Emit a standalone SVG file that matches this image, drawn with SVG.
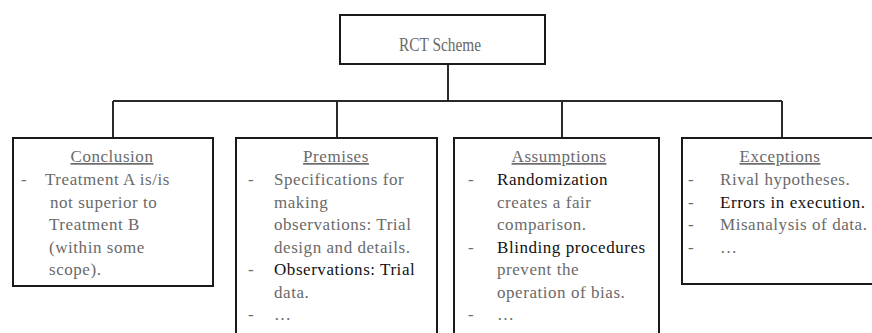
<svg xmlns="http://www.w3.org/2000/svg" width="872" height="333" viewBox="0 0 872 333">
  <style>
    .box { fill: #ffffff; stroke: #1a1a1a; stroke-width: 2; }
    .wire { fill: none; stroke: #2a2a2a; stroke-width: 2; }
    .t { font-family: 'Liberation Serif', 'DejaVu Serif', 'Noto Serif', serif; font-size: 17px; letter-spacing: 0.55px; fill: #6a6a6a; }
    .title { text-anchor: middle; text-decoration: underline; }
    .dark { fill: #111111; }
    .head { font-size: 19px; letter-spacing: 0; text-anchor: middle; }
  </style>

  <rect width="872" height="333" fill="#ffffff"/>

  <!-- tree connectors -->
  <g id="connectors">
    <path class="wire" d="M448 64 V101 M113 101 H782 M113 101 V138 M337 101 V138 M562 101 V138 M782 101 V138"/>
  </g>

  <g class="t" font-family="Liberation Serif, DejaVu Serif, serif">
    <!-- root -->
    <g id="rct-scheme">
      <rect class="box" x="340" y="15" width="205" height="49"/>
      <text class="head" x="440" y="51" textLength="82" lengthAdjust="spacingAndGlyphs">RCT Scheme</text>
    </g>

    <!-- conclusion -->
    <g id="conclusion">
      <rect class="box" x="13" y="138" width="200" height="148"/>
      <text class="title" x="112" y="162">Conclusion</text>
      <text x="21" y="185">-</text>
      <text x="45" y="185">Treatment A is/is</text>
      <text x="50" y="207.5">not superior to</text>
      <text x="49" y="230">Treatment B</text>
      <text x="49" y="252.5">(within some</text>
      <text x="49" y="275">scope).</text>
    </g>

    <!-- premises -->
    <g id="premises">
      <rect class="box" x="236" y="138" width="201" height="200"/>
      <text class="title" x="336" y="162">Premises</text>
      <text x="248" y="185">-</text>
      <text x="274" y="185">Specifications for</text>
      <text x="274" y="207.5">making</text>
      <text x="274" y="230">observations: Trial</text>
      <text x="274" y="252.5">design and details.</text>
      <text x="248" y="275">-</text>
      <text class="dark" x="274" y="275">Observations: Trial</text>
      <text x="274" y="297.5">data.</text>
      <text x="248" y="320">-</text>
      <text x="274" y="320">…</text>
    </g>

    <!-- assumptions -->
    <g id="assumptions">
      <rect class="box" x="454" y="138" width="205" height="200"/>
      <text class="title" x="559" y="162">Assumptions</text>
      <text x="468" y="185">-</text>
      <text class="dark" x="497" y="185">Randomization</text>
      <text x="497" y="207.5">creates a fair</text>
      <text x="497" y="230">comparison.</text>
      <text x="468" y="252.5">-</text>
      <text class="dark" x="497" y="252.5">Blinding procedures</text>
      <text x="497" y="275">prevent the</text>
      <text x="497" y="297.5">operation of bias.</text>
      <text x="468" y="320">-</text>
      <text x="497" y="320">…</text>
    </g>

    <!-- exceptions -->
    <g id="exceptions">
      <rect class="box" x="682" y="138" width="200" height="146"/>
      <text class="title" x="780" y="162">Exceptions</text>
      <text x="688" y="185">-</text>
      <text x="720" y="185">Rival hypotheses.</text>
      <text x="688" y="207.5">-</text>
      <text class="dark" x="720" y="207.5">Errors in execution.</text>
      <text x="688" y="230">-</text>
      <text x="720" y="230">Misanalysis of data.</text>
      <text x="688" y="252.5">-</text>
      <text x="720" y="252.5">…</text>
    </g>
  </g>
</svg>
